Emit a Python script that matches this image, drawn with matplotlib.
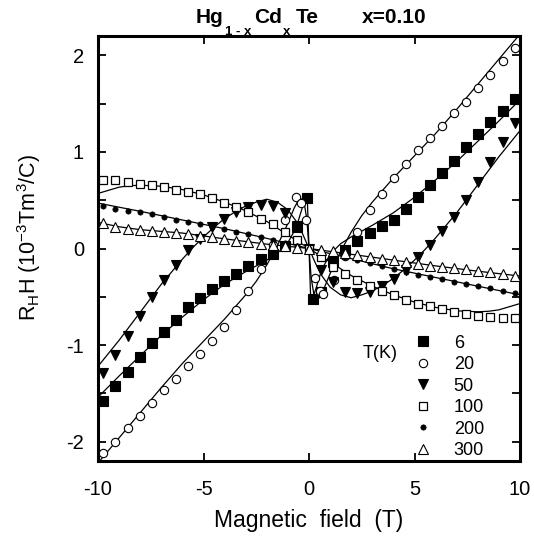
import matplotlib
matplotlib.use("Agg")
import matplotlib.pyplot as plt
from matplotlib.lines import Line2D
from matplotlib.ticker import MultipleLocator, FixedLocator

plt.rcParams['font.family'] = ['Liberation Sans', 'DejaVu Sans']
plt.rcParams['mathtext.fontset'] = 'custom'
plt.rcParams['mathtext.rm'] = 'Liberation Sans'
plt.rcParams['mathtext.it'] = 'Liberation Sans:italic'
plt.rcParams['mathtext.bf'] = 'Liberation Sans:bold'
plt.rcParams['axes.unicode_minus'] = False

# ---------------- data ----------------
temps = ['6', '20', '50', '100', '200', '300']

B_grid = [-9.75, -9.18, -8.60, -8.03, -7.46, -6.88, -6.31, -5.74, -5.16, -4.59,
          -4.01, -3.44, -2.87, -2.29, -1.72, -1.15, -0.57, 0.0, 0.57, 1.15,
          1.72, 2.29, 2.87, 3.44, 4.01, 4.59, 5.16, 5.74, 6.31, 6.88,
          7.46, 8.03, 8.60, 9.18, 9.75]

B_6K = [-9.75, -9.18, -8.60, -8.03, -7.46, -6.88, -6.31, -5.74, -5.16, -4.59,
        -4.01, -3.44, -2.87, -2.29, -1.72, -1.15, -0.57, -0.1, 0.2, 0.57,
        1.15, 1.72, 2.29, 2.87, 3.44, 4.01, 4.59, 5.16, 5.74, 6.31,
        6.88, 7.46, 8.03, 8.60, 9.18, 9.75]
R_6K = [-1.58, -1.42, -1.28, -1.12, -0.98, -0.86, -0.74, -0.61, -0.51, -0.42,
        -0.34, -0.26, -0.18, -0.11, -0.06, 0.03, 0.22, 0.52, -0.52, -0.45,
        -0.14, -0.02, 0.08, 0.16, 0.23, 0.30, 0.41, 0.53, 0.66, 0.78,
        0.91, 1.05, 1.19, 1.31, 1.42, 1.55]

B_20K = [-9.75, -9.18, -8.60, -8.03, -7.46, -6.88, -6.31, -5.74, -5.16, -4.59,
         -4.01, -3.44, -2.87, -2.29, -1.72, -1.15, -0.6, -0.4, -0.12, 0.28,
         0.5, 0.68, 1.2, 1.72, 2.29, 2.87, 3.44, 4.01, 4.59, 5.16,
         5.74, 6.31, 6.88, 7.46, 8.03, 8.60, 9.18, 9.75]
R_20K = [-2.12, -2.00, -1.86, -1.73, -1.60, -1.47, -1.35, -1.22, -1.09, -0.96,
         -0.81, -0.64, -0.44, -0.21, 0.04, 0.30, 0.53, 0.47, 0.30, -0.31,
         -0.44, -0.47, -0.33, -0.08, 0.17, 0.40, 0.56, 0.735, 0.88, 1.02,
         1.14, 1.27, 1.40, 1.52, 1.66, 1.80, 1.94, 2.08]

R_50K = [-1.29, -1.10, -0.91, -0.70, -0.50, -0.33, -0.17, -0.02, 0.10, 0.22,
         0.31, 0.38, 0.43, 0.45, 0.44, 0.37, 0.23, 0.0, -0.22, -0.35,
         -0.45, -0.46, -0.45, -0.39, -0.32, -0.22, -0.09, 0.04, 0.18, 0.33,
         0.50, 0.69, 0.90, 1.10, 1.30]

R_100K = [0.71, 0.71, 0.69, 0.67, 0.66, 0.64, 0.61, 0.59, 0.56, 0.52,
          0.47, 0.43, 0.375, 0.31, 0.25, 0.17, 0.09, -0.01, -0.09, -0.19,
          -0.26, -0.33, -0.39, -0.44, -0.48, -0.53, -0.575, -0.60, -0.63, -0.66,
          -0.68, -0.70, -0.71, -0.72, -0.72]

R_200K = [0.44, 0.41, 0.39, 0.375, 0.355, 0.33, 0.30, 0.275, 0.255, 0.225,
          0.20, 0.175, 0.15, 0.12, 0.09, 0.06, 0.03, 0.0, -0.03, -0.06,
          -0.09, -0.12, -0.15, -0.18, -0.21, -0.245, -0.275, -0.30, -0.32, -0.345,
          -0.365, -0.39, -0.41, -0.435, -0.46]

R_300K = [0.26, 0.225, 0.20, 0.19, 0.18, 0.175, 0.165, 0.15, 0.13, 0.115,
          0.095, 0.08, 0.065, 0.05, 0.04, 0.03, 0.01, 0.0, -0.015, -0.03,
          -0.05, -0.07, -0.09, -0.11, -0.12, -0.135, -0.16, -0.178, -0.19, -0.205,
          -0.215, -0.233, -0.246, -0.264, -0.282]

# fitted curves (solid lines)
FB_6K = [-10, -9, -8, -7, -6, -5, -4, -3, -2.5, -2, -1.5, -1.0, -0.6, -0.35, -0.2, -0.08,
         0.08, 0.2, 0.35, 0.6, 1.0, 1.5, 2, 2.5, 3, 4, 5, 6, 7, 8, 9, 10]
FR_6K = [-1.54, -1.32, -1.11, -0.90, -0.71, -0.53, -0.37, -0.24, -0.18, -0.12, -0.05, 0.06, 0.22, 0.40, 0.50, 0.52,
         -0.52, -0.50, -0.40, -0.22, -0.06, 0.05, 0.12, 0.18, 0.24, 0.37, 0.53, 0.71, 0.90, 1.11, 1.32, 1.54]

FB_20K = [-10, -9, -8, -7, -6, -5, -4, -3, -2.5, -2, -1.5, -1.0, -0.7, -0.45, -0.25, -0.1,
          0.1, 0.25, 0.45, 0.7, 1.0, 1.5, 2, 2.5, 3, 4, 5, 6, 7, 8, 9, 10]
FR_20K = [-2.22, -1.96, -1.70, -1.44, -1.19, -0.96, -0.73, -0.48, -0.34, -0.17, 0.03, 0.26, 0.42, 0.52, 0.50, 0.30,
          -0.30, -0.50, -0.52, -0.42, -0.26, -0.03, 0.17, 0.34, 0.48, 0.73, 0.96, 1.19, 1.44, 1.70, 1.96, 2.22]

FB_50K = [-10, -9, -8, -7, -6, -5.5, -5, -4.5, -4, -3.5, -3, -2.5, -2, -1.5, -1.0, -0.6, -0.3,
          0, 0.3, 0.6, 1.0, 1.5, 2, 2.5, 3, 3.5, 4, 4.5, 5, 5.5, 6, 7, 8, 9, 10]
FR_50K = [-1.22, -0.95, -0.66, -0.37, -0.11, 0.01, 0.12, 0.22, 0.31, 0.38, 0.44, 0.48, 0.51, 0.48, 0.40, 0.28, 0.15,
          0.0, -0.15, -0.28, -0.40, -0.48, -0.51, -0.48, -0.44, -0.38, -0.31, -0.22, -0.12, -0.01, 0.11, 0.37, 0.66, 0.95, 1.22]

FB_100K = [-10, -9, -8.5, -8, -7, -6, -5, -4, -3, -2, -1, 0, 1, 2, 3, 4, 5, 6, 7, 8, 8.5, 9, 10]
FR_100K = [0.57, 0.635, 0.65, 0.655, 0.645, 0.61, 0.555, 0.48, 0.39, 0.28, 0.14, 0.0,
           -0.14, -0.28, -0.39, -0.48, -0.555, -0.61, -0.645, -0.655, -0.65, -0.635, -0.57]

FB_200K = [-10, -8, -6, -4, -2, 0, 2, 4, 6, 8, 10]
FR_200K = [0.47, 0.385, 0.295, 0.205, 0.105, 0.0, -0.105, -0.21, -0.30, -0.39, -0.48]

FB_300K = [-10, -9, -8, -6, -4, -2, 0, 2, 4, 6, 8, 10]
FR_300K = [0.27, 0.225, 0.195, 0.16, 0.10, 0.045, 0.0, -0.06, -0.12, -0.18, -0.235, -0.285]

x_ticks = [-10, -5, 0, 5, 10]
y_ticks = [-2, -1, 0, 1, 2]

# ---------------- figure ----------------
W, H = 534, 537
fig = plt.figure(figsize=(W / 100, H / 100), dpi=100)
ax = fig.add_axes([98 / W, 1 - 461 / H, 422 / W, 425 / H])

for fb, fr in [(FB_6K, FR_6K), (FB_20K, FR_20K), (FB_50K, FR_50K),
               (FB_100K, FR_100K), (FB_200K, FR_200K), (FB_300K, FR_300K)]:
    ax.plot(fb, fr, color='black', lw=0.9, zorder=2)

styles = [
    dict(marker='s', ms=6.5, mfc='black', mec='black', mew=0.8),
    dict(marker='o', ms=6.0, mfc='white', mec='black', mew=0.8),
    dict(marker='v', ms=7.8, mfc='black', mec='black', mew=0.8),
    dict(marker='s', ms=6.3, mfc='white', mec='black', mew=0.9),
    dict(marker='o', ms=3.8, mfc='black', mec='black', mew=0.5),
    dict(marker='^', ms=7.0, mfc='white', mec='black', mew=0.8),
]
series = [(B_6K, R_6K), (B_20K, R_20K), (B_grid, R_50K),
          (B_grid, R_100K), (B_grid, R_200K), (B_grid, R_300K)]

handles = []
for (bx, ry), st in zip(series, styles):
    ax.plot(bx, ry, ls='none', zorder=3, **st)
    handles.append(Line2D([], [], ls='none', **st))

ax.set_xlim(-10, 10)
ax.set_ylim(-2.2, 2.2)
ax.xaxis.set_major_locator(FixedLocator(x_ticks))
ax.yaxis.set_major_locator(FixedLocator(y_ticks))
ax.yaxis.set_minor_locator(MultipleLocator(0.5))
ax.tick_params(which='both', direction='in', top=True, right=True,
               length=6, width=1.3, labelsize=14.5)
ax.tick_params(axis='x', pad=14)
ax.tick_params(axis='y', pad=10)
for sp in ax.spines.values():
    sp.set_linewidth(2.2)

ax.set_xlabel('Magnetic  field  (T)', fontsize=16.5)
ax.xaxis.set_label_coords(0.5, -0.112)
ax.set_ylabel(r'R$_\mathrm{H}$H (10$^{-3}$Tm$^{3}$/C)', fontsize=15.5)
ax.yaxis.set_label_coords(-0.13, 0.525)

# title pieces (main text and lowered subscripts)
base_main = 1 - 23 / H
base_sub = 1 - 35 / H
title_parts = [('Hg', 196, base_main, 15), ('1 - x', 225, base_sub, 9.5),
               ('Cd', 254, base_main, 15), ('x', 283, base_sub, 9.5),
               ('Te', 296, base_main, 15), ('x=0.10', 362, base_main, 15)]
for txt, px, yb, fs in title_parts:
    fig.text(px / W, yb, txt, ha='left', va='baseline', fontsize=fs, fontweight='bold')

leg = ax.legend(handles, temps, loc='lower left', bbox_to_anchor=(0.749, 0.004),
                frameon=False, fontsize=13, handlelength=1.0, handletextpad=1.2,
                labelspacing=0.25, borderpad=0, borderaxespad=0)
ax.text(0.626, 0.254, 'T(K)', transform=ax.transAxes, ha='left', va='center', fontsize=13)

fig.savefig('out.png', dpi=100)
